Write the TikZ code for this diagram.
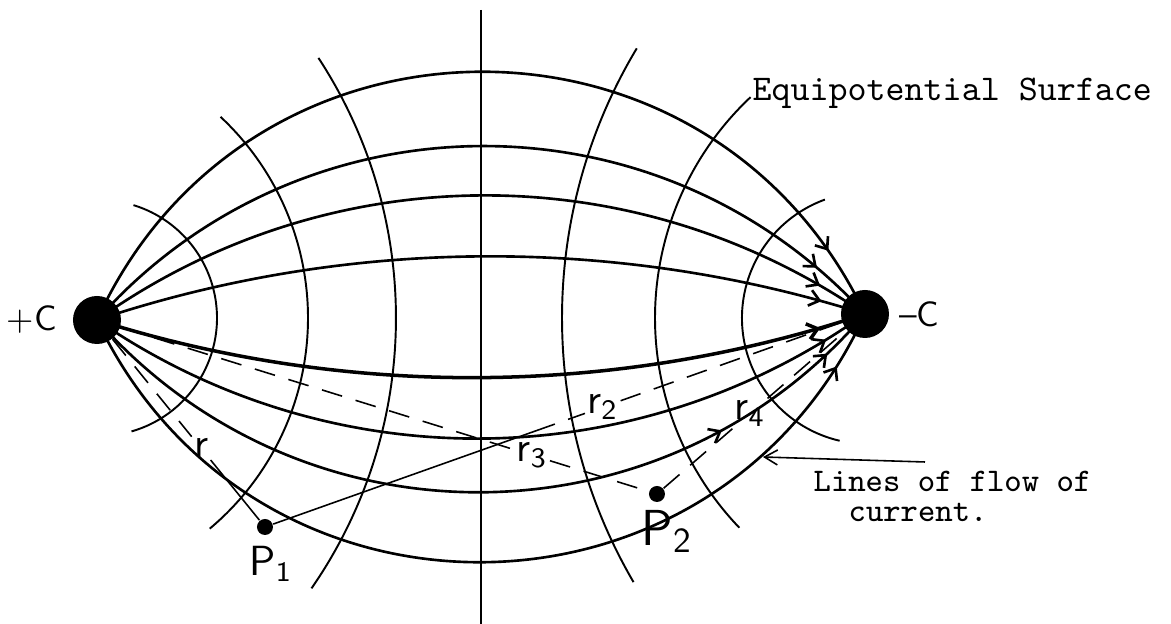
\documentclass[tikz,border=0pt]{standalone}
\usepackage{amsmath}
\usetikzlibrary{calc, arrows.meta, positioning, decorations.markings}

\begin{document}
\begin{tikzpicture}[
    flow/.style={line width=0.75pt},
    equi/.style={line width=0.55pt},
    axis/.style={line width=0.45pt},
    rline/.style={line width=0.45pt, dash pattern=on 6pt off 4pt},
    solidline/.style={line width=0.45pt},
    electrode/.style={circle, fill=black, minimum size=0.48cm, inner sep=0pt},
    probe/.style={circle, fill=black, minimum size=0.16cm, inner sep=0pt},
    lbl/.style={font=\sffamily, inner sep=1pt},
    rlbl/.style={font=\sffamily\large, inner sep=0.5pt},
    note/.style={inner sep=0pt, anchor=base west},
    barb/.style={postaction={decorate, decoration={markings,
      mark=at position #1 with {\arrow{Straight Barb[length=1mm, width=1.6mm]}}}}},
  ]
  \useasboundingbox (-4.81,-3.06) rectangle (6.90,3.18);

  \node[electrode] (pc) at (-3.84,-0.02) {};
  \node[electrode] (nc) at (3.84,0.04) {};
  \node[probe] (p1) at (-2.16,-2.09) {};
  \node[probe] (p2) at (1.76,-1.76) {};

  % centre line
  \coordinate (top) at (0,3.08);
  \coordinate (bottom) at (0,-3.06);
  \draw[axis] (top) -- (bottom);

  % lines of flow
  \draw[flow, barb=0.924] (pc.center) to[bend left=65, looseness=1.2] (nc.center);
  \draw[flow, barb=0.923] (pc.center) to[bend left=48, looseness=1.02] (nc.center);
  \draw[flow, barb=0.935] (pc.center) to[bend left=35, looseness=0.94] (nc.center);
  \draw[flow, barb=0.942] (pc.center) to[bend left=18, looseness=0.87] (nc.center);
  \draw[flow, line width=1pt, barb=0.94] (pc.center) to[bend right=18, looseness=0.87] (nc.center);
  \draw[flow, barb=0.943] (pc.center) to[bend right=35, looseness=0.94] (nc.center);
  \draw[flow, barb=0.787, barb=0.937] (pc.center) to[bend right=49, looseness=1.03] (nc.center);
  \draw[flow, barb=0.938] (pc.center) to[bend right=65, looseness=1.2] (nc.center);

  % equipotential surfaces
  \draw[equi] (-3.82,0) ++(-74:1.18) arc[start angle=-74, end angle=73, radius=1.18];
  \draw[equi] (-4.48,0) ++(-50:2.75) arc[start angle=-50, end angle=47, radius=2.75];
  \draw[equi] (-5.60,0) ++(-34.7:4.75) arc[start angle=-34.7, end angle=33.2, radius=4.75];
  \draw[equi] (3.87,0) ++(110:1.26) arc[start angle=110, end angle=257, radius=1.26];
  \draw[equi] (4.77,0) ++(133.2:3.03) arc[start angle=133.2, end angle=223.8, radius=3.03];
  \draw[equi] (6.045,0) ++(149:5.235) arc[start angle=149, end angle=210.3, radius=5.235];

  % distances to the probes
  \node[rlbl] (lr) at ($(pc)!0.62!(p1)$) {r};
  \draw[rline] (pc) -- (lr);
  \draw[solidline] (lr) -- (p1);
  \coordinate (m2) at ($(p1)!0.45!(nc)$);
  \node[rlbl] (lr2) at ($(p1)!0.563!(nc)$) {r\textsubscript{2}};
  \draw[solidline] (p1) -- (m2);
  \draw[rline] (m2) -- (lr2) -- (nc);
  \node[rlbl] (lr3) at ($(pc)!0.777!(p2)$) {r\textsubscript{3}};
  \draw[rline] (pc) -- (lr3) -- (p2);
  \node[rlbl] (lr4) at ($(p2)!0.447!(nc)$) {r\textsubscript{4}};
  \draw[rline] (p2) -- (lr4) -- (nc);

  \node[lbl, left=0.115cm of pc] (plus) {+C};
  \node[lbl, right=0.055cm of nc] (minus) {--C};
  \node[lbl, font=\sffamily\large, below=0.06cm of p1, xshift=0.06cm] (p1 label) {P\textsubscript{1}};
  \node[lbl, font=\sffamily\Large, below=0.03cm of p2, xshift=0.1cm] (p2 label) {P\textsubscript{2}};

  \node[note, font=\fontsize{10.3}{12}\selectfont\ttfamily] (equi text) at (2.71,2.17) {Equipotential Surface};
  \node[note, font=\fontsize{9.4}{11}\selectfont\ttfamily] (flow text) at (3.32,-1.74) {Lines of flow of};
  \node[note, font=\fontsize{9.4}{11}\selectfont\ttfamily] (flow text2) at (3.67,-2.04) {current.};
  \coordinate (tail) at (4.44,-1.44);
  \coordinate (tip) at (2.82,-1.39);
  \draw[solidline, -{Straight Barb[length=1.3mm, width=1.5mm]}] (tail) -- (tip);
\end{tikzpicture}
\end{document}
